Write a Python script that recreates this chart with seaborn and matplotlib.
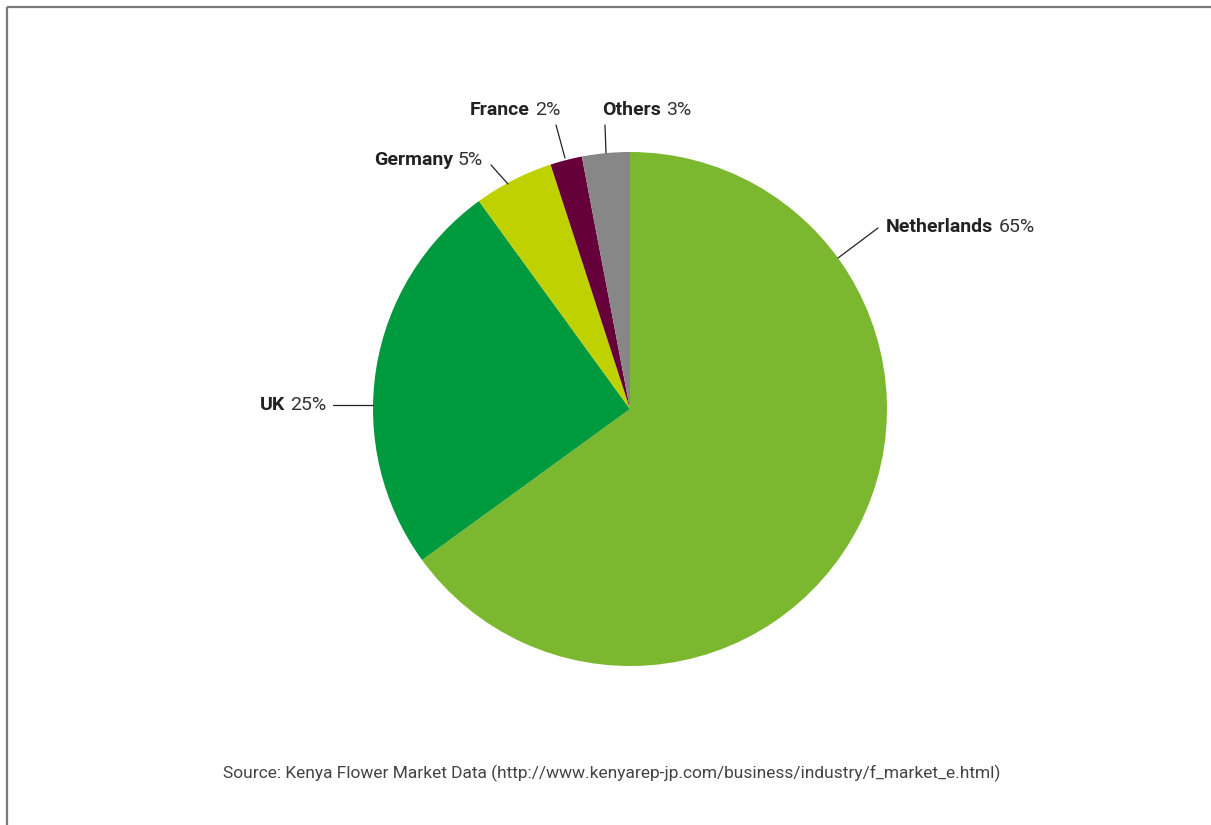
import numpy as np
import matplotlib
matplotlib.use("Agg")
import matplotlib.pyplot as plt
import seaborn as sns

sns.set_theme(style="white")
plt.rcParams['font.family'] = ['Roboto', 'DejaVu Sans']

categories = ["Netherlands", "UK", "Germany", "France", "Others"]
shares = [65, 25, 5, 2, 3]
colors = ["#7CB82F", "#009A3E", "#BFD200", "#65003A", "#878787"]
source = "Source: Kenya Flower Market Data (http://www.kenyarep-jp.com/business/industry/f_market_e.html)"

W, H = 1211, 825
fig = plt.figure(figsize=(W / 100, H / 100), dpi=100)
ax = fig.add_axes([0, 0, 1, 1])

cx, cy, r = 630, 409, 257
wedges, _ = ax.pie(shares, colors=colors, startangle=-90, counterclock=True,
                   center=(cx, cy), radius=r, frame=True,
                   wedgeprops=dict(linewidth=0))
ax.set_xlim(0, W)
ax.set_ylim(H, 0)
ax.set_aspect("equal")
ax.axis("off")

layout = {
    "Netherlands": dict(x=886, y=227, ha="left", line=((838, 258), (878, 228))),
    "UK": dict(x=326, y=405, ha="right", line=((333, 405), (373, 405))),
    "Germany": dict(x=483, y=160, ha="right", line=((491, 165), (508, 184))),
    "France": dict(x=560, y=110, ha="right", line=((556, 125), (565, 158))),
    "Others": dict(x=602, y=110, ha="left", line=((605, 125), (606, 153))),
}

fig.canvas.draw()
renderer = fig.canvas.get_renderer()
fs = 14
for cat, val in zip(categories, shares):
    L = layout[cat]
    (x0, y0), (x1, y1) = L["line"]
    ax.plot([x0, x1], [y0, y1], color="#222222", lw=0.9)
    name = ax.text(0, L["y"], cat, fontsize=fs, fontweight="bold", color="#222222", va="center", ha="left")
    pct = ax.text(0, L["y"], f"{val}%", fontsize=fs, color="#333333", va="center", ha="left")
    gap = 5
    wn = name.get_window_extent(renderer).width
    wp = pct.get_window_extent(renderer).width
    if L["ha"] == "left":
        xs = L["x"]
    else:
        xs = L["x"] - wn - gap - wp
    name.set_x(xs)
    pct.set_x(xs + wn + gap)

ax.text(612, 773, source, fontsize=12.5, color="#444444", ha="center", va="center")

ax.plot([7, W], [7, 7], color="#7a7a7a", lw=1.6, solid_capstyle="butt")
ax.plot([7, 7], [7, H], color="#7a7a7a", lw=1.6, solid_capstyle="butt")

fig.savefig("out.png", dpi=100, facecolor="white")
